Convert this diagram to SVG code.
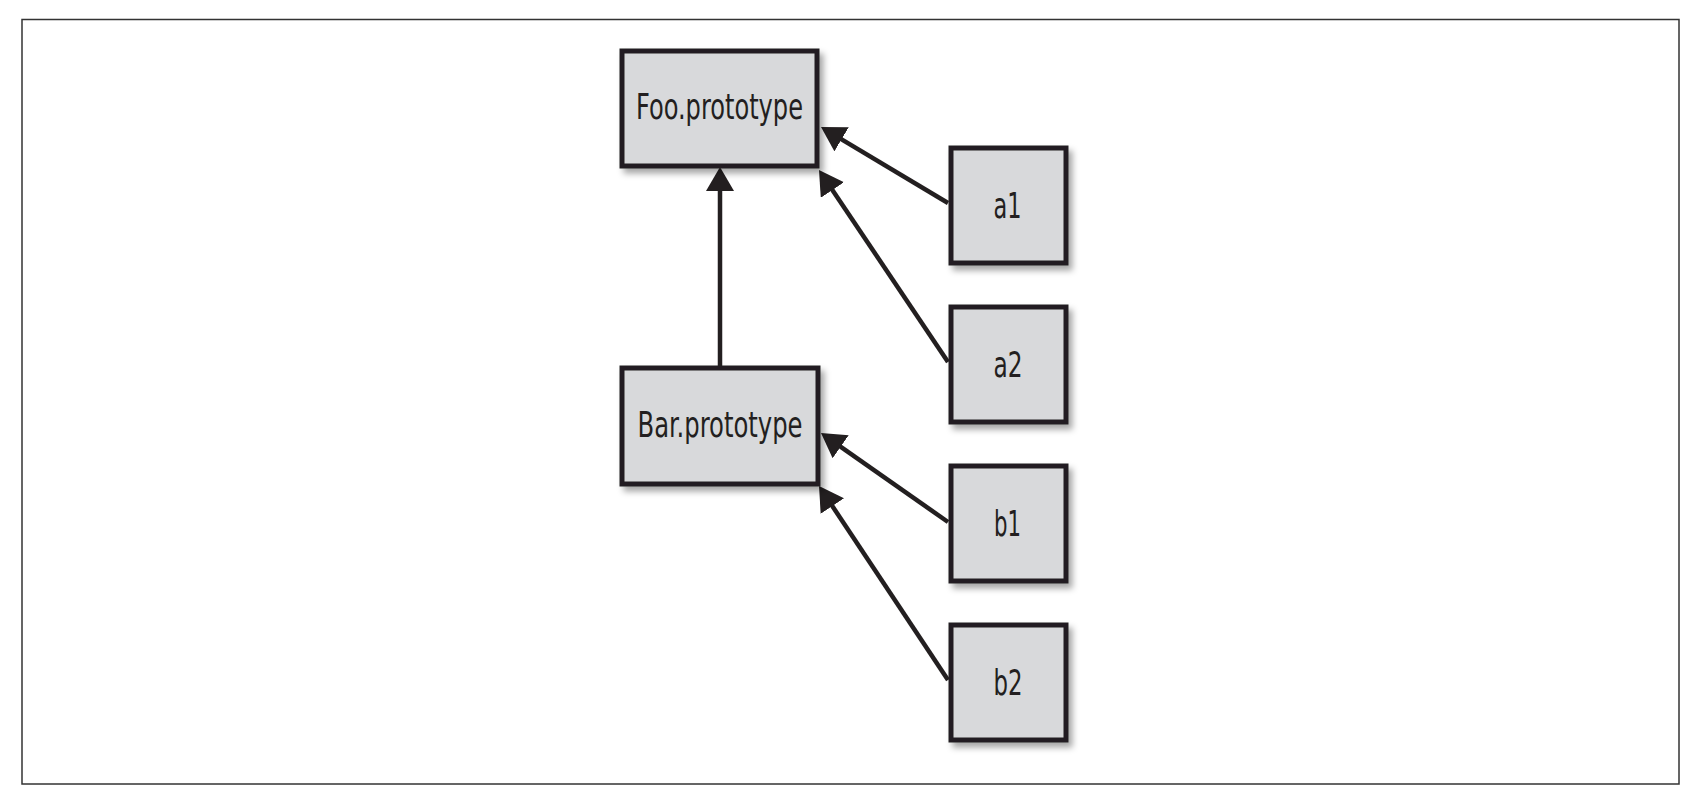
<svg xmlns="http://www.w3.org/2000/svg" width="1698" height="802" viewBox="0 0 1698 802">
  <style>
    .box { fill: #d8d9db; stroke: #231f20; stroke-width: 5; filter: url(#shadow); }
    .lbl { font-family: "Liberation Sans Narrow", "DejaVu Sans Condensed", "Liberation Sans", sans-serif; font-size: 35px; fill: #231f20; text-anchor: middle; }
    .edge { stroke: #231f20; stroke-width: 4.5; fill: none; marker-end: url(#arrow); }
  </style>
  <defs>
    <filter id="shadow" x="-20%" y="-20%" width="150%" height="150%">
      <feDropShadow dx="4" dy="5" stdDeviation="3" flood-color="#000" flood-opacity="0.35"/>
    </filter>
    <marker id="arrow" markerUnits="userSpaceOnUse" markerWidth="26" markerHeight="30" refX="19" refY="14" orient="auto">
      <path d="M0,0 L24,14 L0,28 z" fill="#231f20"/>
    </marker>
  </defs>
  <rect x="0" y="0" width="1698" height="802" fill="#ffffff"/>
  <rect x="22" y="19.5" width="1657" height="764.5" fill="none" stroke="#333" stroke-width="1.5"/>

  <g id="connectors">
    <line class="edge" x1="720" y1="368" x2="720" y2="172"/>
    <line class="edge" x1="948" y1="203" x2="825.3" y2="129.6"/>
    <line class="edge" x1="948" y1="362" x2="821.8" y2="174.2"/>
    <line class="edge" x1="948" y1="522" x2="825.1" y2="435.9"/>
    <line class="edge" x1="948" y1="680" x2="821.8" y2="490.2"/>
  </g>

  <g id="foo">
    <rect class="box" x="622" y="51" width="195" height="115"/>
    <text class="lbl" x="719.5" y="119" textLength="167" lengthAdjust="spacingAndGlyphs">Foo.prototype</text>
  </g>
  <g id="bar">
    <rect class="box" x="622" y="368" width="196" height="116"/>
    <text class="lbl" x="720" y="437" textLength="165" lengthAdjust="spacingAndGlyphs">Bar.prototype</text>
  </g>
  <g id="a1">
    <rect class="box" x="951" y="148" width="115" height="115"/>
    <text class="lbl" x="1007.5" y="218" textLength="28" lengthAdjust="spacingAndGlyphs">a1</text>
  </g>
  <g id="a2">
    <rect class="box" x="951" y="307" width="115" height="115"/>
    <text class="lbl" x="1008" y="377" textLength="29" lengthAdjust="spacingAndGlyphs">a2</text>
  </g>
  <g id="b1">
    <rect class="box" x="951" y="466" width="115" height="115"/>
    <text class="lbl" x="1007.5" y="536" textLength="27" lengthAdjust="spacingAndGlyphs">b1</text>
  </g>
  <g id="b2">
    <rect class="box" x="951" y="625" width="115" height="115"/>
    <text class="lbl" x="1008" y="695" textLength="29" lengthAdjust="spacingAndGlyphs">b2</text>
  </g>
</svg>
